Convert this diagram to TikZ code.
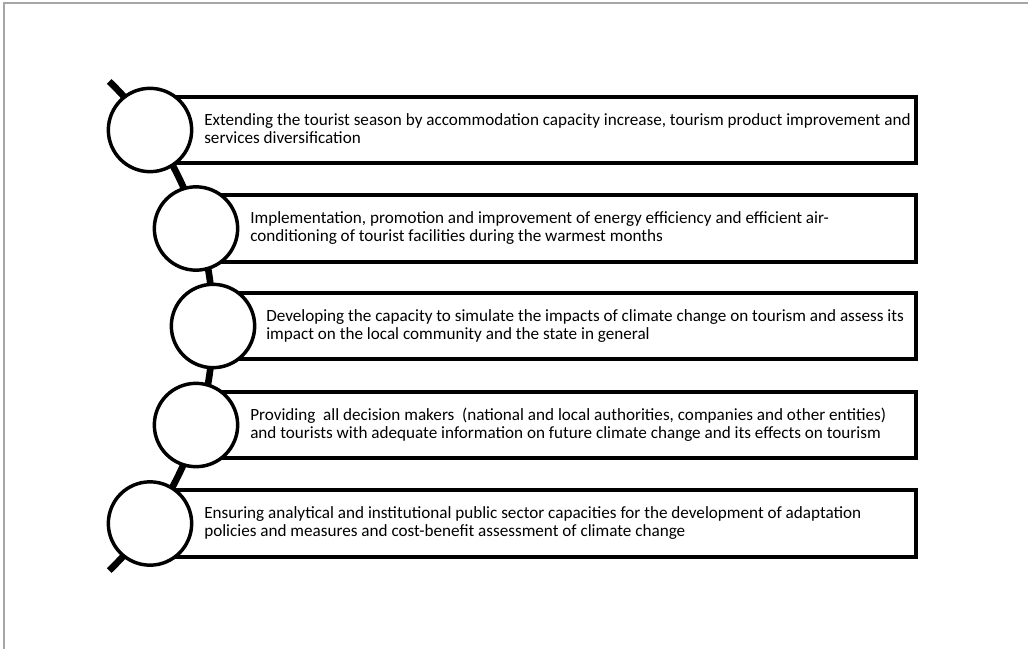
\documentclass[tikz,border=0pt]{standalone}
\usepackage{fontspec}
\setmainfont{Carlito}
\begin{document}
\begin{tikzpicture}[x=0.75pt,y=-0.75pt,
  spine/.style={line width=5pt,line cap=butt},
  itembox/.style={draw,line width=2.6pt,fill=white},
  bead/.style={circle,draw,line width=2.6pt,fill=white,minimum size=62.5pt,inner sep=0pt},
  itemtext/.style={anchor=west,align=left,inner sep=0pt,font=\fontsize{12.85}{13.6}\selectfont}]
\useasboundingbox (0,0) rectangle (1028,649);
\draw[gray!70,line width=1.2pt] (4,649) -- (4,3) -- (1028,3);
% spine
\coordinate (ctr) at (-127,326);
\draw[spine] (ctr) ++(-46:340) coordinate (s0) arc[start angle=-46,end angle=46,radius=340] coordinate (s1);
% boxes
\foreach \i/\cx/\yt/\yb in {1/150/97/163,2/196/195/262,3/213/293/359,4/196/392/458,5/150/490/557}{
  \draw[itembox] (\cx,\yt) rectangle (916,\yb);
}
% circles
\node[bead] (c1) at (150,130) {};
\node[bead] (c2) at (196,228.5) {};
\node[bead] (c3) at (213,326) {};
\node[bead] (c4) at (196,425) {};
\node[bead] (c5) at (150,523.5) {};
% texts
\node[itemtext] (t1) at (204,129) {Extending the tourist season by accommodation capacity increase, tourism product improvement and\\services diversification};
\node[itemtext] (t2) at (250,228) {Implementation, promotion and improvement of energy efficiency and efficient air-\\conditioning of tourist facilities during the warmest months};
\node[itemtext] (t3) at (266,326) {Developing the capacity to simulate the impacts of climate change on tourism and assess its\\impact on the local community and the state in general};
\node[itemtext] (t4) at (250,425) {Providing\ \ all decision makers\ \ (national and local authorities, companies and other entities)\\and tourists with adequate information on future climate change and its effects on tourism};
\node[itemtext] (t5) at (204,523) {Ensuring analytical and institutional public sector capacities for the development of adaptation\\policies and measures and cost-benefit assessment of climate change};
\end{tikzpicture}
\end{document}
